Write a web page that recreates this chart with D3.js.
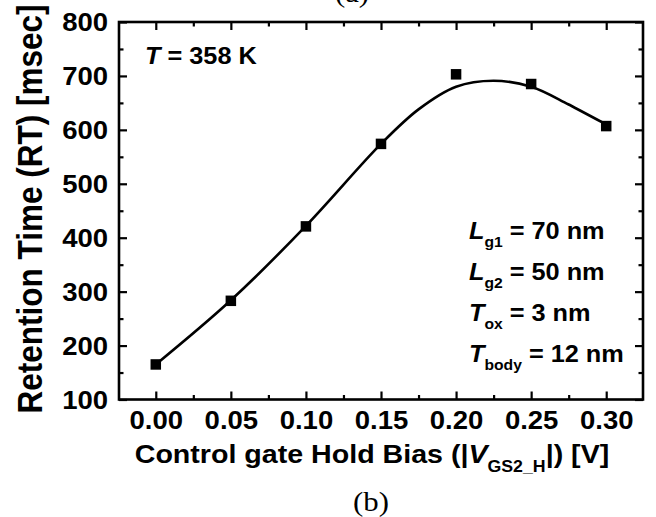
<!DOCTYPE html>
<html>
<head>
<meta charset="utf-8">
<script src="https://cdn.jsdelivr.net/npm/d3@7"></script>
<style>
  html, body { margin: 0; padding: 0; background: #fff; }
  svg { display: block; }
  text { font-family: "Liberation Sans", Arial, sans-serif; font-weight: bold; fill: #000; }
  .serif { font-family: "Liberation Serif", "Times New Roman", serif; font-weight: normal; }
</style>
</head>
<body>
<svg id="chart" width="656" height="517"></svg>
<script>
// ---- data ----
const biasV = [0.00, 0.05, 0.10, 0.15, 0.20, 0.25, 0.30];
const retentionMs = [165, 283, 421, 574, 703, 685, 607];
// fitted curve
const fitBias = [0.00, 0.05, 0.10, 0.15, 0.175, 0.20, 0.225, 0.25, 0.275, 0.30];
const fitRetention = [165, 284, 422, 574, 638, 680, 691, 680, 647, 610];
const xTickValues = [0.00, 0.05, 0.10, 0.15, 0.20, 0.25, 0.30];
const xMinorValues = [0.025, 0.075, 0.125, 0.175, 0.225, 0.275];
const yTickValues = [100, 200, 300, 400, 500, 600, 700, 800];
const yMinorValues = [150, 250, 350, 450, 550, 650, 750];

const svg = d3.select("#chart");
const L = 119, R = 643, T = 22, B = 399.5;
const SX = 1.1; // horizontal text stretch of the reference

const x = d3.scaleLinear().domain([-0.0245, 0.3245]).range([L, R]);
const y = d3.scaleLinear().domain([100, 800]).range([B, T]);

function styleAxis(g, showLabels) {
  g.select(".domain").remove();
  g.selectAll(".tick line").attr("stroke", "#000").attr("stroke-width", 2.2);
  if (!showLabels) g.selectAll(".tick text").remove();
  else g.selectAll(".tick text")
        .attr("font-size", 25).attr("font-family", "Liberation Sans, Arial, sans-serif")
        .attr("font-weight", "bold").attr("fill", "#000");
}

// bottom
const gb = svg.append("g").attr("transform", `translate(0,${B})`)
  .call(d3.axisBottom(x).tickValues(xTickValues).tickSize(-8).tickPadding(12).tickFormat(d3.format(".2f")));
styleAxis(gb, true);
gb.selectAll(".tick text").attr("transform", `scale(${SX},1)`);
const gbm = svg.append("g").attr("transform", `translate(0,${B})`)
  .call(d3.axisBottom(x).tickValues(xMinorValues).tickSize(-4.5).tickFormat(""));
styleAxis(gbm, false);
// top
const gt = svg.append("g").attr("transform", `translate(0,${T})`)
  .call(d3.axisTop(x).tickValues(xTickValues).tickSize(-8).tickFormat(""));
styleAxis(gt, false);
const gtm = svg.append("g").attr("transform", `translate(0,${T})`)
  .call(d3.axisTop(x).tickValues(xMinorValues).tickSize(-4.5).tickFormat(""));
styleAxis(gtm, false);
// left
const gl = svg.append("g").attr("transform", `translate(${L},0)`)
  .call(d3.axisLeft(y).tickValues(yTickValues).tickSize(-8).tickPadding(10).tickFormat(d3.format("d")));
styleAxis(gl, true);
gl.selectAll(".tick text").attr("transform", `scale(${SX},1)`).attr("dy", "0.35em");
const glm = svg.append("g").attr("transform", `translate(${L},0)`)
  .call(d3.axisLeft(y).tickValues(yMinorValues).tickSize(-4.5).tickFormat(""));
styleAxis(glm, false);
// right
const gr = svg.append("g").attr("transform", `translate(${R},0)`)
  .call(d3.axisRight(y).tickValues(yTickValues).tickSize(-8).tickFormat(""));
styleAxis(gr, false);
const grm = svg.append("g").attr("transform", `translate(${R},0)`)
  .call(d3.axisRight(y).tickValues(yMinorValues).tickSize(-4.5).tickFormat(""));
styleAxis(grm, false);

// frame
svg.append("rect").attr("x", L).attr("y", T).attr("width", R - L).attr("height", B - T)
  .attr("fill", "none").attr("stroke", "#000").attr("stroke-width", 2.6);

// fitted curve
const fit = fitBias.map((b, i) => [b, fitRetention[i]]);
svg.append("path").datum(fit)
  .attr("fill", "none").attr("stroke", "#000").attr("stroke-width", 2.6)
  .attr("d", d3.line().x(d => x(d[0])).y(d => y(d[1])).curve(d3.curveCatmullRom.alpha(0.5)));

// markers
const ms = 10.5;
svg.append("g").selectAll("rect").data(biasV.map((b, i) => [b, retentionMs[i]])).join("rect")
  .attr("x", d => x(d[0]) - ms / 2).attr("y", d => y(d[1]) - ms / 2)
  .attr("width", ms).attr("height", ms).attr("fill", "#000");

// rich text helper
function richText(px, py, parts, size, anchor, rotate) {
  const tr = `translate(${px},${py})` + (rotate ? ` scale(${SX},1) rotate(${rotate})` : ` scale(${SX},1)`);
  const t = svg.append("text").attr("transform", tr).attr("font-size", size)
    .attr("text-anchor", anchor || "start");
  let sub = false;
  parts.forEach(p => {
    const ts = t.append("tspan").text(p.t);
    if (p.i) ts.attr("font-style", "italic");
    if (p.sub && !sub) { ts.attr("dy", size * 0.36).attr("font-size", size * 0.62); sub = true; }
    else if (p.sub) { ts.attr("font-size", size * 0.62); }
    else if (!p.sub && sub) { ts.attr("dy", -size * 0.36); sub = false; }
  });
  return t;
}

// axis titles
richText(42, 209, [{t: "Retention Time (RT) [msec]"}], 31.5, "middle", -90);
richText(372, 463, [
  {t: "Control gate Hold Bias (|"}, {t: "V", i: true}, {t: "GS2_H", sub: true}, {t: "|) [V]"}
], 26, "middle");

// annotations
richText(145, 64, [{t: "T", i: true}, {t: " = 358 K"}], 23);
richText(469, 239, [{t: "L", i: true}, {t: "g1", sub: true}, {t: " = 70 nm"}], 23);
richText(469, 280, [{t: "L", i: true}, {t: "g2", sub: true}, {t: " = 50 nm"}], 23);
richText(469, 321, [{t: "T", i: true}, {t: "ox", sub: true}, {t: " = 3 nm"}], 23);
richText(469, 362, [{t: "T", i: true}, {t: "body", sub: true}, {t: " = 12 nm"}], 23);

// panel captions
svg.append("text").attr("class", "serif").attr("transform", `translate(352,2) scale(${SX},1)`)
  .attr("text-anchor", "middle").attr("font-size", 28).text("(a)");
svg.append("text").attr("class", "serif").attr("transform", `translate(371,511) scale(${SX},1)`)
  .attr("text-anchor", "middle").attr("font-size", 28).text("(b)");
</script>
</body>
</html>
